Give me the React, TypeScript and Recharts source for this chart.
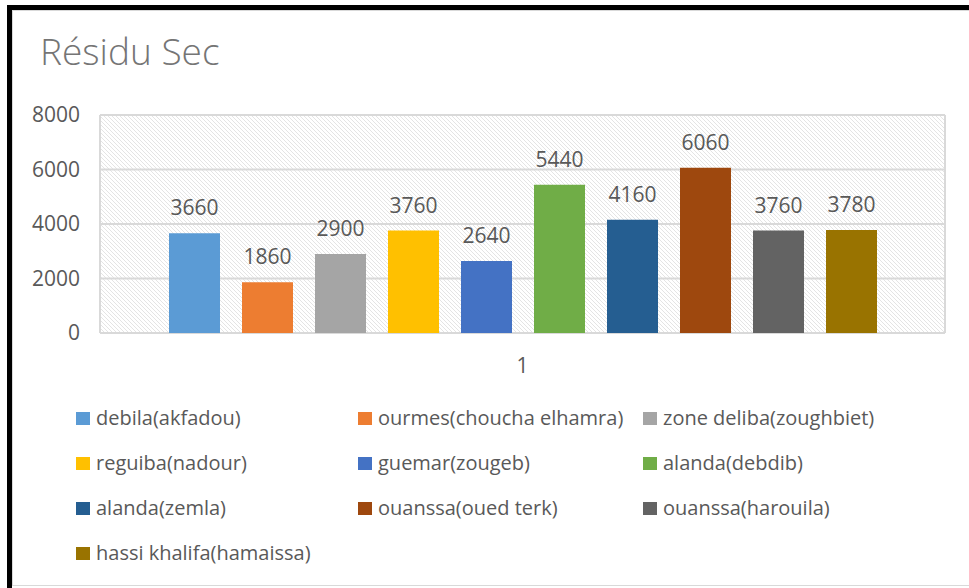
import React from 'react';
import { BarChart, Bar, XAxis, YAxis, CartesianGrid, LabelList } from 'recharts';

const categories = ['1'];
const seriesNames = [
  'debila(akfadou)',
  'ourmes(choucha elhamra)',
  'zone deliba(zoughbiet)',
  'reguiba(nadour)',
  'guemar(zougeb)',
  'alanda(debdib)',
  'alanda(zemla)',
  'ouanssa(oued terk)',
  'ouanssa(harouila)',
  'hassi khalifa(hamaissa)',
];
const seriesValues = [3660, 1860, 2900, 3760, 2640, 5440, 4160, 6060, 3760, 3780];
const seriesColors = [
  '#5B9BD5', '#ED7D31', '#A5A5A5', '#FFC000', '#4472C4',
  '#70AD47', '#255E91', '#9E480E', '#636363', '#997300',
];
const yTicks = [0, 2000, 4000, 6000, 8000];

const data = categories.map((name) => {
  const row: Record<string, string | number> = { name };
  seriesNames.forEach((s, i) => {
    row['s' + i] = seriesValues[i];
  });
  return row;
});

const FONT = '"Open Sans", "Noto Sans", sans-serif';
const TEXT = '#595959';

const Legend = () => (
  <div
    style={{
      position: 'absolute',
      left: 76,
      top: 404,
      display: 'grid',
      gridTemplateColumns: '282px 285px 300px',
      rowGap: 17,
      fontFamily: FONT,
      fontSize: 20,
      color: TEXT,
      lineHeight: '28px',
    }}
  >
    {seriesNames.map((n, i) => (
      <div key={n} style={{ display: 'flex', alignItems: 'center', whiteSpace: 'nowrap' }}>
        <span style={{ width: 14, height: 13, background: seriesColors[i], marginRight: 6, display: 'inline-block' }} />
        {n}
      </div>
    ))}
  </div>
);

export default function App() {
  return (
    <div style={{ position: 'absolute', left: 0, top: 0, width: 969, height: 588, overflow: 'hidden', background: '#fff' }}>
      <div style={{ position: 'absolute', left: 7, top: 5, width: 1000, height: 600, borderLeft: '5px solid #000', borderTop: '5px solid #000' }} />
      <div style={{ position: 'absolute', left: 12, top: 10, width: 1000, height: 574, border: '1px solid #d9d9d9' }} />
      <div
        style={{
          position: 'absolute',
          left: 40,
          top: 32,
          fontFamily: FONT,
          fontWeight: 300,
          fontSize: 37,
          lineHeight: '37px',
          color: '#757575',
        }}
      >
        Résidu Sec
      </div>
      <div style={{ position: 'absolute', left: 0, top: 0 }}>
        <BarChart
          width={969}
          height={390}
          data={data}
          margin={{ top: 115, right: 24, left: 0, bottom: 0 }}
          barSize={51}
          barGap={22}
          style={{ fontFamily: FONT }}
        >
          <defs>
            <pattern id="hatch" patternUnits="userSpaceOnUse" width="4" height="4">
              <rect width="4" height="4" fill="#ffffff" />
              <path d="M0,0 L4,4 M-1,3 L1,5 M3,-1 L5,1" stroke="#e4e4e4" strokeWidth="1" />
            </pattern>
          </defs>
          <CartesianGrid
            fill="url(#hatch)"
            fillOpacity={1}
            stroke="#d9d9d9"
            strokeWidth={2}
            verticalCoordinatesGenerator={({ offset }: any) => [offset.left, offset.left + offset.width]}
          />
          <XAxis
            dataKey="name"
            height={57}
            axisLine={false}
            tickLine={false}
            tickSize={0}
            tickMargin={25}
            tick={{ fill: TEXT, fontSize: 21, fontFamily: FONT }}
          />
          <YAxis
            width={100}
            domain={[0, 8000]}
            ticks={yTicks}
            axisLine={false}
            tickLine={false}
            tickSize={0}
            tickMargin={20}
            tick={{ fill: TEXT, fontSize: 21, fontFamily: FONT }}
          />
          {seriesNames.map((n, i) => (
            <Bar key={n} dataKey={'s' + i} name={n} fill={seriesColors[i]} isAnimationActive={false}>
              <LabelList dataKey={'s' + i} position="top" offset={18} fill={TEXT} fontSize={21} fontFamily={FONT} />
            </Bar>
          ))}
        </BarChart>
      </div>
      <Legend />
    </div>
  );
}
